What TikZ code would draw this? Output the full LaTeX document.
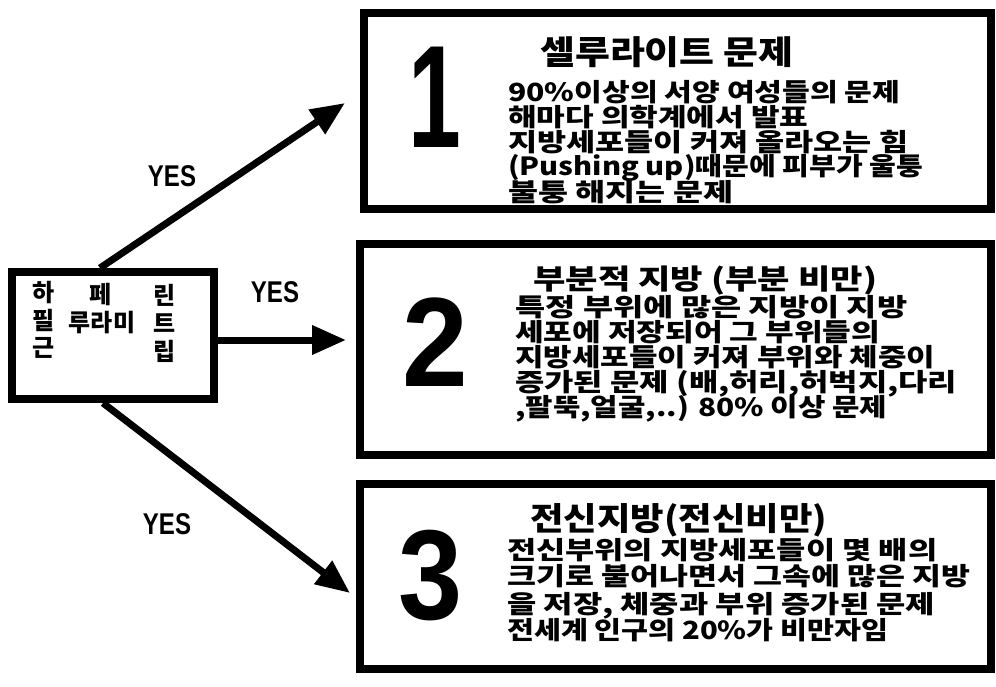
\documentclass[tikz,border=0pt]{standalone}
\usepackage{fontspec}
\usepackage{graphicx}
\setmainfont{Liberation Sans}
\newfontfamily\kr{Noto Sans CJK KR}
\usetikzlibrary{arrows.meta}
\newcommand\fitw[2]{\resizebox{#1pt}{\height}{#2}}
\newcommand\kfont[1]{\kr\bfseries\fontsize{#1}{#1}\selectfont}
\tikzset{
  panel/.style={draw=black, line width=8pt, inner sep=0pt},
  bignum/.style={inner sep=0pt},
  yes/.style={inner sep=0pt, font=\bfseries\fontsize{30}{30}\selectfont},
  conn/.style={line width=7pt, -{Triangle[length=34pt,width=28pt]}},
  kt/.style={inner sep=0pt, anchor=base west},
  kg/.style={inner sep=0pt, font=\kfont{24}},
}
\begin{document}
\begin{tikzpicture}[x=1pt,y=-1pt]
\useasboundingbox[fill=white] (0,0) rectangle (996,686);

% boxes
\node[panel, minimum width=202pt, minimum height=127pt] (src) at (113,335.5) {};
\node[panel, minimum width=627pt, minimum height=196pt] (box1) at (677.5,111) {};
\node[panel, minimum width=631pt, minimum height=211pt] (box2) at (675.5,349.5) {};
\node[panel, minimum width=631pt, minimum height=185pt] (box3) at (675.5,576.5) {};

% source box glyphs
\node[kg] (g1) at (44,293) {하};
\node[kg] (g2) at (44,320) {필};
\node[kg] (g3) at (44,348) {근};
\node[kg] (g4) at (101,295) {페};
\node[kg] (g5) at (102,323) {루라미};
\node[kg] (g6) at (165,295) {린};
\node[kg] (g7) at (165,323) {트};
\node[kg] (g8) at (165,351) {립};

% big numbers
\node[bignum, font=\bfseries\fontsize{146}{146}\selectfont] (n1) at (435,97) {\scalebox{0.65}[1]{1}};
\node[bignum, font=\bfseries\fontsize{127}{127}\selectfont] (n2) at (435,342) {\scalebox{0.93}[1]{2}};
\node[bignum, font=\bfseries\fontsize{128}{128}\selectfont] (n3) at (431,576) {\scalebox{0.9}[1]{3}};

% box 1 text
\node[kt, font=\kfont{33}] (b1t) at (540,64) {\fitw{253}{셀루라이트 문제}};
\node[kt, font=\kfont{25}] (b1a) at (508,101) {\fitw{392}{90\%이상의 서양 여성들의 문제}};
\node[kt, font=\kfont{25}] (b1b) at (508,126) {\fitw{300}{해마다 의학계에서 발표}};
\node[kt, font=\kfont{25}] (b1c) at (508,151) {\fitw{400}{지방세포들이 커져 올라오는 힘}};
\node[kt, font=\kfont{25}] (b1d) at (508,175) {\fitw{415}{(Pushing up)때문에 피부가 울퉁}};
\node[kt, font=\kfont{25}] (b1e) at (508,201) {\fitw{225}{불퉁 해지는 문제}};

% box 2 text
\node[kt, font=\kfont{28}] (b2t) at (533,289) {\fitw{344}{부분적 지방 (부분 비만)}};
\node[kt, font=\kfont{25}] (b2a) at (515,316) {\fitw{392}{특정 부위에 많은 지방이 지방}};
\node[kt, font=\kfont{25}] (b2b) at (515,341) {\fitw{365}{세포에 저장되어 그 부위들의}};
\node[kt, font=\kfont{25}] (b2c) at (515,366) {\fitw{420}{지방세포들이 커져 부위와 체중이}};
\node[kt, font=\kfont{25}] (b2d) at (515,391) {\fitw{442}{증가된 문제 (배,허리,허벅지,다리}};
\node[kt, font=\kfont{25}] (b2e) at (515,416) {\fitw{372}{,팔뚝,얼굴,..) 80\% 이상 문제}};

% box 3 text
\node[kt, font=\kfont{32}] (b3t) at (530,530) {\fitw{297}{전신지방(전신비만)}};
\node[kt, font=\kfont{25}] (b3a) at (507,559) {\fitw{430}{전신부위의 지방세포들이 몇 배의}};
\node[kt, font=\kfont{25}] (b3b) at (507,585) {\fitw{463}{크기로 불어나면서 그속에 많은 지방}};
\node[kt, font=\kfont{25}] (b3c) at (507,613) {\fitw{428}{을 저장, 체중과 부위 증가된 문제}};
\node[kt, font=\kfont{25}] (b3d) at (507,639) {\fitw{381}{전세계 인구의 20\%가 비만자임}};

% YES labels
\node[yes] (y1) at (172,176) {\scalebox{0.8}[1]{YES}};
\node[yes] (y2) at (275,292) {\scalebox{0.8}[1]{YES}};
\node[yes] (y3) at (167,524) {\scalebox{0.8}[1]{YES}};

% connectors
\coordinate (t1) at (345,103);
\coordinate (t2) at (346,340);
\coordinate (t3) at (350,593);
\draw[conn] ([xshift=-13pt]src.north) -- (t1);
\draw[conn] ([yshift=-4.5pt]src.east) -- (t2);
\draw[conn] ([xshift=-10pt]src.south) -- (t3);
\end{tikzpicture}
\end{document}
